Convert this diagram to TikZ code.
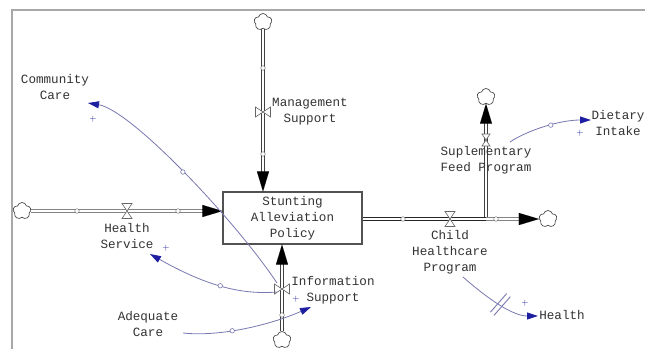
\documentclass[tikz,border=0pt]{standalone}
\usepackage{fontspec}
\newfontfamily\vmono{Liberation Mono}
\usetikzlibrary{arrows.meta,shapes.symbols,calc}

\definecolor{linkcol}{HTML}{7878B0}
\definecolor{headcol}{HTML}{1E1EA0}
\definecolor{inkcol}{HTML}{333333}
\definecolor{framecol}{HTML}{A8A8A8}

\tikzset{
  lbl/.style={font=\vmono\fontsize{12.6}{16}\selectfont, text=inkcol, align=center, inner sep=0pt},
  stockbox/.style={draw=inkcol!85, line width=1.1pt, minimum width=139pt, minimum height=52pt, inner sep=0pt, fill=white},
  cloudnode/.style={cloud, cloud puffs=5, cloud puff arc=150, aspect=1, draw=black!70, line width=0.7pt,
    minimum width=18pt, minimum height=17pt, inner sep=0pt, fill=white},
  pipe/.style={draw=black!75, line width=0.6pt, double=white, double distance=2.6pt},
  flowhead/.style={-{Triangle[length=20pt,width=12pt]}, black, line width=0.01pt},
  link/.style={draw=linkcol, line width=0.8pt, -{Triangle[length=11pt,width=7pt,color=headcol]}},
  handle/.style={circle, draw=linkcol, fill=white, line width=0.6pt, inner sep=0pt, minimum size=4.5pt},
  pipemark/.style={circle, draw=black!55, fill=white, line width=0.5pt, inner sep=0pt, minimum size=4.5pt},
  pol/.style={font=\fontsize{9}{9}\selectfont, text=headcol, inner sep=0pt},
  delaybox/.style={minimum width=4pt, minimum height=24pt, inner sep=0pt},
  hvalve/.pic={\draw[black!60, line width=0.6pt, fill=white] (-5,-7.5) -- (5,-7.5) -- (-5,7.5) -- (5,7.5) -- cycle;},
  vvalve/.pic={\draw[black!60, line width=0.6pt, fill=white] (-7.5,-5) -- (-7.5,5) -- (7.5,-5) -- (7.5,5) -- cycle;},
}

\begin{document}
\begin{tikzpicture}[x=1pt,y=-1pt]
\useasboundingbox (0,0) rectangle (645,349);
\clip (0,0) rectangle (645,349);
\fill[white] (0,0) rectangle (645,349);

% frame of the drawing area
\draw[framecol, line width=1.5pt] (12,349) -- (12,10) -- (645,10);

% stock
\node[stockbox, lbl] (stock) at (292.5,218) {Stunting\\Alleviation\\Policy};

% sources and sinks
\node[cloudnode] (mcloud) at (263,22) {};
\node[cloudnode] (hcloud) at (22,211) {};
\node[cloudnode] (icloud) at (282,340) {};
\node[cloudnode] (rcloud) at (548,219) {};
\node[cloudnode] (scloud) at (486,97) {};

% valve positions
\coordinate (mvalve) at (263,112);
\coordinate (hvalvept) at (127,211);
\coordinate (ivalve) at (282,289);
\coordinate (cvalve) at (450,219);
\coordinate (svalve) at (486,140);
\coordinate (fork) at (486,219);

% flow pipes
\draw[pipe, shorten >=18pt] (mcloud) -- (stock.north -| mcloud);
\draw[flowhead] ($(stock.north -| mcloud)+(0,-20)$) -- (stock.north -| mcloud);

\draw[pipe, shorten >=18pt] (hcloud) -- (stock.west |- hcloud);
\draw[flowhead] ($(stock.west |- hcloud)+(-20,0)$) -- (stock.west |- hcloud);

\draw[pipe, shorten >=19pt] (icloud) -- (stock.south -| icloud);
\draw[flowhead] ($(stock.south -| icloud)+(0,21)$) -- (stock.south -| icloud);

\draw[pipe, line width=1pt, draw=black!85] (stock.east |- fork) -- (fork);
\draw[pipe, shorten >=18pt] (fork) -- (rcloud);
\draw[flowhead] ($(rcloud.west)+(-20,0)$) -- (rcloud.west);
\draw[pipe, shorten >=18pt] ($(fork)+(0,-2)$) -- (scloud);
\draw[flowhead] ($(scloud.south)+(0,20)$) -- (scloud.south);

% valves
\pic at (mvalve) {vvalve};
\pic at (hvalvept) {hvalve};
\pic at (ivalve) {vvalve};
\pic at (cvalve) {hvalve};
\pic[scale=0.8] at (svalve) {hvalve};

% pipe handles
\node[pipemark] (pm1) at (263,68) {};
\node[pipemark] (pm2) at (263,154) {};
\node[pipemark] (pm3) at (77,211) {};
\node[pipemark] (pm4) at (178,211) {};
\node[pipemark] (pm5) at (282,315) {};
\node[pipemark] (pm6) at (403,219) {};
\node[pipemark] (pm7) at (496,219) {};

% labels
\node[lbl] (mgmt)  at (310,112) {Management\\Support};
\node[lbl] (hserv) at (127,236) {Health\\Service};
\node[lbl] (info)  at (333,290) {Information\\Support};
\node[lbl] (child) at (450,252) {Child\\Healthcare\\Program};
\node[lbl] (supp)  at (486,160) {Suplementary\\Feed Program};
\node[lbl] (comm)  at (55,87)   {Community\\Care};
\node[lbl] (adeq)  at (148,324) {Adequate\\Care};
\node[lbl] (diet)  at (618,123) {Dietary\\Intake};
\node[lbl] (hlth)  at (562,315) {Health};

% link end points
\coordinate (comm-in)   at (88,103);
\coordinate (hserv-in)  at (150,254);
\coordinate (info-in)   at (311,307);
\coordinate (diet-in)   at (591,120);
\coordinate (hlth-in)   at (538,316);
\coordinate (adeq-out)  at (183,333);
\coordinate (supp-out)  at (510,142);
\coordinate (child-out) at (463,277);

% causal links
\draw[link] ($(ivalve)+(-5,-6)$) .. controls (235,220) and (131,110) .. (comm-in)
  node[handle, pos=0.5] (h1) {};
\draw[link] ($(ivalve)+(-5,3)$) .. controls (240,295) and (205,285) .. (hserv-in)
  node[handle, pos=0.5] (h2) {};
\draw[link] (adeq-out) .. controls (220,337) and (270,325) .. (info-in)
  node[handle, pos=0.4] (h3) {};
\draw[link] (supp-out) .. controls (528,130) and (560,120) .. (diet-in)
  node[handle, pos=0.56] (h4) {};
\draw[link] (child-out) .. controls (480,292) and (510,316) .. (hlth-in)
  node[delaybox, pos=0.55, sloped, rotate=-12] (dly) {};
\draw[linkcol, line width=0.9pt] (dly.north west) -- (dly.south west) (dly.north east) -- (dly.south east);

% polarities
\node[pol] (p1) at (93,119)  {+};
\node[pol] (p2) at (166,248) {+};
\node[pol] (p3) at (296,299) {+};
\node[pol] (p4) at (580,133) {+};
\node[pol] (p5) at (525,303) {+};
\end{tikzpicture}
\end{document}
